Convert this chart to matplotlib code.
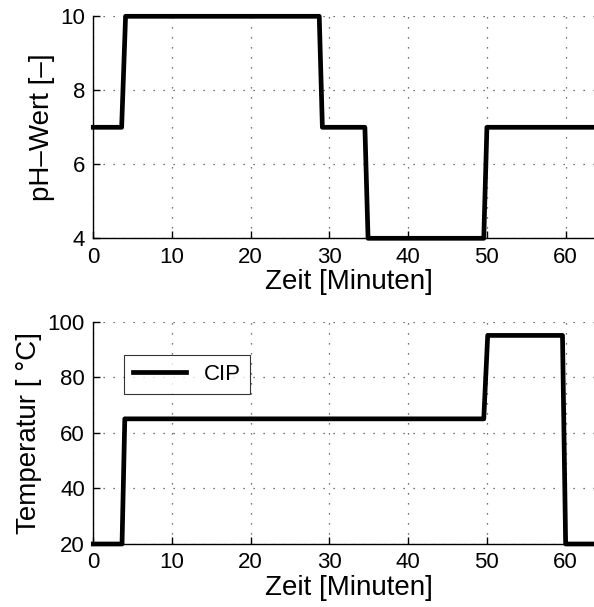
import matplotlib
matplotlib.use("Agg")
import matplotlib.pyplot as plt

plt.rcParams['font.family'] = ['Liberation Sans', 'DejaVu Sans']

# pH profile (time in minutes, pH value)
ph_time = [0, 3.6, 4.1, 28.7, 29.1, 34.5, 34.9, 49.6, 50.0, 65]
ph_value = [7, 7, 10, 10, 7, 7, 4, 4, 7, 7]

# temperature profile (time in minutes, °C)
temp_time = [0, 3.65, 4.0, 49.6, 50.1, 59.6, 60.0, 65]
temp_value = [20, 20, 65, 65, 95, 95, 20, 20]

x_ticks = [0, 10, 20, 30, 40, 50, 60]
ph_ticks = [4, 6, 8, 10]
temp_ticks = [20, 40, 60, 80, 100]

W, H = 594, 607
fig = plt.figure(figsize=(W / 100, H / 100), dpi=100)

left = 93.3 / W
width = (605 - 93.3) / W
ax1 = fig.add_axes([left, 1 - 238.3 / H, width, 222 / H])
ax2 = fig.add_axes([left, 1 - 544 / H, width, 222.5 / H])


def style(ax):
    for s in ['top', 'right']:
        ax.spines[s].set_visible(False)
    for s in ['left', 'bottom']:
        ax.spines[s].set_linewidth(1.0)
    ax.tick_params(direction='in', length=5, width=1.0, labelsize=16, pad=6,
                   colors='black')
    ax.grid(True, color='#444444', linestyle=(0, (1, 7)), linewidth=0.9)
    ax.set_axisbelow(True)
    ax.set_xlim(0, 65)
    ax.set_xticks(x_ticks)
    ax.set_xlabel('Zeit [Minuten]', fontsize=20, labelpad=1)


ax1.plot(ph_time, ph_value, color='black', linewidth=3.4, clip_on=False)
style(ax1)
ax1.set_ylim(4, 10)
ax1.set_yticks(ph_ticks)
ax1.set_ylabel('pH\u2013Wert [\u2013]', fontsize=20, labelpad=4)

ax2.plot(temp_time, temp_value, color='black', linewidth=3.4, label='CIP',
         clip_on=False)
style(ax2)
ax2.set_ylim(20, 100)
ax2.set_yticks(temp_ticks)
ax2.set_ylabel('Temperatur [ \u00b0C]', fontsize=20, labelpad=4)
leg = ax2.legend(loc='upper left', bbox_to_anchor=(0.06, 0.849), fontsize=16,
                 frameon=True, fancybox=False, edgecolor='black',
                 borderaxespad=0, handlelength=2.4, borderpad=0.4,
                 handletextpad=0.8)
leg.get_frame().set_linewidth(0.8)

fig.savefig('out.png', dpi=100)
